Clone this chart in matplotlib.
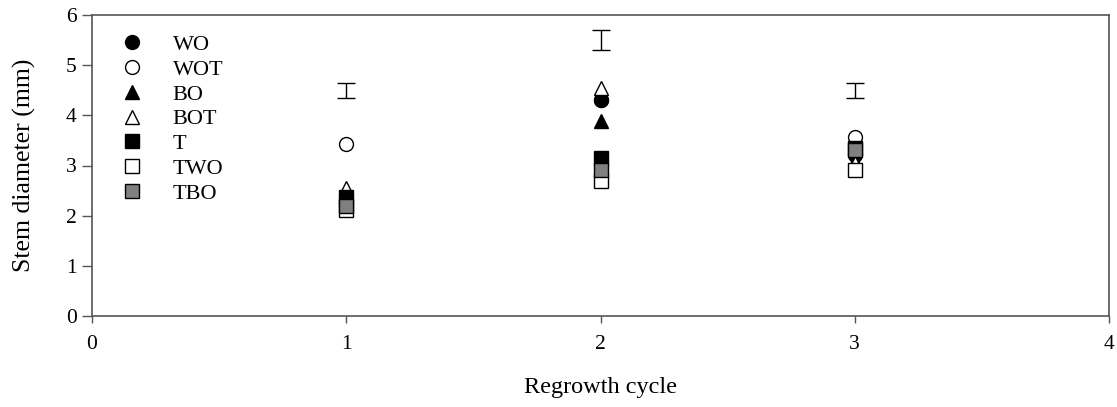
import matplotlib
matplotlib.use("Agg")
import matplotlib.pyplot as plt

plt.rcParams['font.family'] = ['Liberation Serif', 'DejaVu Serif']

cycles = [1, 2, 3]
series = ["WO", "WOT", "BO", "BOT", "T", "TWO", "TBO"]
WO = [2.32, 4.30, 3.20]
WOT = [3.43, 4.30, 3.56]
BO = [2.42, 3.88, 3.08]
BOT = [2.55, 4.54, 3.05]
T = [2.38, 3.15, 3.35]
TWO = [2.12, 2.70, 2.92]
TBO = [2.20, 2.92, 3.31]
lsd_center = [4.49, 5.50, 4.49]
lsd_half = [0.15, 0.20, 0.15]

styles = {
    "WO": ("o", "black", WO, 3.0),
    "WOT": ("o", "white", WOT, 2.5),
    "BO": ("^", "black", BO, 3.2),
    "BOT": ("^", "white", BOT, 3.3),
    "T": ("s", "black", T, 3.4),
    "TWO": ("s", "white", TWO, 3.3),
    "TBO": ("s", "#808080", TBO, 3.6),
}

fig = plt.figure(figsize=(11.17, 4.07), dpi=100)
ax = fig.add_axes([92/1117, 1 - 316/407, (1109-92)/1117, (316-15)/407])

for name in series:
    m, fc, vals, z = styles[name]
    ms = 10 if m != "^" else 10.5
    ax.plot(cycles, vals, linestyle="none", marker=m, markersize=ms,
            markerfacecolor=fc, markeredgecolor="black", markeredgewidth=1.0,
            label=name, zorder=z)

ax.errorbar(cycles, lsd_center, yerr=lsd_half, fmt="none", ecolor="black",
            elinewidth=1.0, capsize=6.5, capthick=1.0)

ax.set_xlim(0, 4)
ax.set_ylim(0, 6)
ax.set_xticks([0, 1, 2, 3, 4])
ax.set_yticks([0, 1, 2, 3, 4, 5, 6])
for s in ax.spines.values():
    s.set_color("#555555")
    s.set_linewidth(1.2)
ax.tick_params(axis="y", direction="out", length=7, width=1, color="#555555",
               labelsize=15.5, pad=4)
ax.tick_params(axis="x", direction="out", length=5, width=1, color="#555555",
               labelsize=15.5, pad=9)
ax.set_ylabel("Stem diameter (mm)", fontsize=18.5)
ax.yaxis.set_label_coords(-0.055, 0.5)
ax.set_xlabel("Regrowth cycle", fontsize=17.5, labelpad=16)

handles, labels = ax.get_legend_handles_labels()
leg = ax.legend(handles, labels, loc="upper left", bbox_to_anchor=(0.017, 0.965),
                frameon=False, fontsize=16, handletextpad=1.25, labelspacing=0.19,
                handlelength=1.2, borderaxespad=0)

fig.savefig("out.png", dpi=100)
